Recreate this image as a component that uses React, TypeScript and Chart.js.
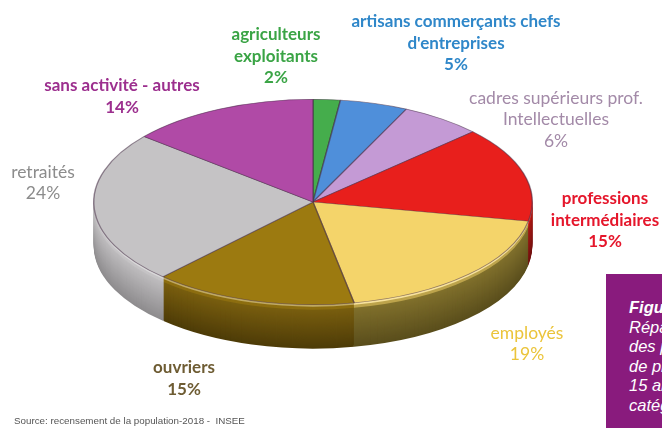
import { useEffect, useRef } from "react";
import { Chart, registerables } from "chart.js";
Chart.register(...registerables);

// ---- data ----
const categories = [
  "agriculteurs exploitants",
  "artisans commerçants chefs d'entreprises",
  "cadres supérieurs prof. Intellectuelles",
  "professions intermédiaires",
  "employés",
  "ouvriers",
  "retraités",
  "sans activité - autres",
];
const categoryLines = [
  ["agriculteurs", "exploitants"],
  ["artisans commerçants chefs", "d'entreprises"],
  ["cadres supérieurs prof.", "Intellectuelles"],
  ["professions", "intermédiaires"],
  ["employés"],
  ["ouvriers"],
  ["retraités"],
  ["sans activité - autres"],
];
const shares = [2, 5, 6, 15, 19, 15, 24, 14];
const sourceText = "Source: recensement de la population-2018 -  INSEE";
const boxLines = ["Figure", "Répartition", "des personnes", "de plus de", "15 ans par", "catégorie"];

// ---- styles ----
const topColors = ["#45ad4c", "#4f8fda", "#c49ad5", "#e81f1c", "#f4d46a", "#9c7a10", "#c5c3c5", "#b04aa6"];
const sideTopColors = ["#2f7a35", "#33639a", "#8e6a9c", "#b01a14", "#85742e", "#7e6210", "#c4c2c4", "#7e2f76"];
const sideBottomColors = ["#1f5523", "#234670", "#6a4c75", "#701010", "#5a4e1c", "#4e3c08", "#8e8c8e", "#5a2054"];
const labelColors = ["#3aa445", "#2f87c9", "#a38aa8", "#e5162b", "#ebc43a", "#6e5c33", "#8c8c8c", "#9c2f8e"];
const labelWeights = ["bold", "bold", "normal", "bold", "normal", "bold", "normal", "bold"];
const labelSizes = [17, 17, 17.5, 17, 17.5, 17, 17.5, 17];
const labelPos: [number, number][] = [
  [276, 35], [456, 22], [556, 98], [605, 199], [527, 333], [184, 368], [43, 172], [122, 86],
];
const LINE_H = 21.5;
const CX = 313, CY = 202, RX = 220, RY = 103, R = 150, DEPTH = 44;

function mix(a: string, b: string, t: number) {
  const pa = [1, 3, 5].map((i) => parseInt(a.slice(i, i + 2), 16));
  const pb = [1, 3, 5].map((i) => parseInt(b.slice(i, i + 2), 16));
  const c = pa.map((v, i) => Math.round(v + (pb[i] - v) * t));
  return `rgb(${c[0]},${c[1]},${c[2]})`;
}

function applyEllipse(ctx: CanvasRenderingContext2D) {
  ctx.translate(CX, CY);
  ctx.scale(RX / R, RY / R);
  ctx.translate(-CX, -CY);
}

const pie3d = {
  id: "pie3d",
  beforeDatasetsDraw(chart: any) {
    const ctx: CanvasRenderingContext2D = chart.ctx;
    const arcs = chart.getDatasetMeta(0).data;
    for (let d = DEPTH; d >= 1; d--) {
      const t = (d - 1) / (DEPTH - 1);
      ctx.save();
      ctx.translate(0, d);
      applyEllipse(ctx);
      arcs.forEach((arc: any, i: number) => {
        const clone = Object.create(arc);
        let col = mix(sideTopColors[i], sideBottomColors[i], t);
        if (d <= 2) col = mix(topColors[i], "#ffffff", 0.35);
        else if (d <= 5) col = mix(topColors[i], sideTopColors[i], 0.5);
        clone.options = { ...arc.options, backgroundColor: col, borderWidth: 0, borderColor: col };
        clone.draw(ctx);
      });
      ctx.restore();
    }
    ctx.save();
    applyEllipse(ctx);
  },
  afterDatasetsDraw(chart: any) {
    chart.ctx.restore();
  },
  afterDraw(chart: any) {
    const ctx: CanvasRenderingContext2D = chart.ctx;
    ctx.save();
    ctx.textAlign = "center";
    ctx.textBaseline = "middle";
    categoryLines.forEach((lines, i) => {
      const all = [...lines, `${shares[i]}%`];
      ctx.fillStyle = labelColors[i];
      ctx.font = `${labelWeights[i]} ${labelSizes[i]}px Lato, "Noto Sans", sans-serif`;
      all.forEach((s, j) => {
        ctx.fillText(s, labelPos[i][0], labelPos[i][1] + j * LINE_H);
      });
    });
    ctx.textAlign = "left";
    ctx.fillStyle = "#555555";
    ctx.font = `9.8px "Liberation Sans", Arial, sans-serif`;
    ctx.fillText(sourceText, 14, 421);
    ctx.restore();
  },
};

export default function App() {
  const ref = useRef<HTMLCanvasElement | null>(null);
  useEffect(() => {
    if (!ref.current) return;
    const chart = new Chart(ref.current, {
      type: "pie",
      data: {
        labels: categories,
        datasets: [
          {
            data: shares,
            backgroundColor: topColors,
            borderColor: "rgba(70,45,70,0.55)",
            borderWidth: 1,
          },
        ],
      },
      options: {
        responsive: false,
        animation: false,
        devicePixelRatio: 1,
        layout: { padding: { left: CX - R, right: 662 - CX - R, top: CY - R, bottom: 428 - CY - R } },
        plugins: { legend: { display: false }, tooltip: { enabled: false } },
        events: [],
      },
      plugins: [pie3d],
    });
    return () => chart.destroy();
  }, []);
  return (
    <div style={{ position: "fixed", left: 0, top: 0, width: 662, height: 428, overflow: "hidden", background: "#fff" }}>
      <canvas ref={ref} width={662} height={428} style={{ position: "absolute", left: 0, top: 0 }} />
      <div
        style={{
          position: "absolute",
          left: 606,
          top: 274,
          width: 100,
          height: 200,
          background: "#891b7d",
          color: "#fff",
          fontFamily: '"Liberation Sans", Arial, sans-serif',
          fontStyle: "italic",
          fontSize: 16.5,
          lineHeight: "19.6px",
          paddingTop: 24,
          paddingLeft: 23,
          boxSizing: "border-box",
          whiteSpace: "nowrap",
        }}
      >
        {boxLines.map((s, i) => (
          <div key={i} style={{ fontWeight: i === 0 ? "bold" : "normal" }}>{s}</div>
        ))}
      </div>
    </div>
  );
}
